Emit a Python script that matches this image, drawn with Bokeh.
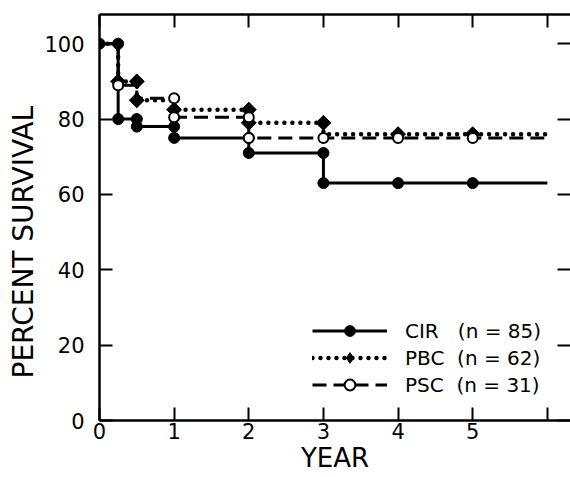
import math
from bokeh.plotting import figure
from bokeh.models import (LinearAxis, FixedTicker, Range1d, Legend, LegendItem, Title)
from bokeh.embed import file_html
from bokeh.resources import INLINE

# ---- data ----
# Kaplan-Meier step curves: time (years) and percent survival from that time on
cir_t = [0, 0.25, 0.5, 1, 2, 3, 6]
cir_s = [100, 80, 78, 75, 71, 63, 63]
pbc_t = [0, 0.25, 0.5, 1, 2, 3, 6]
pbc_s = [100, 90, 85, 82.5, 79, 76, 76]
psc_t = [0, 0.25, 0.5, 1, 2, 6]
psc_s = [100, 89, 85.5, 80.5, 75, 75]

# plotted markers
cir_mx = [0, 0.25, 0.25, 0.5, 0.5, 1, 1, 2, 2, 3, 3, 4, 5]
cir_my = [100, 100, 80, 80, 78, 78, 75, 75, 71, 71, 63, 63, 63]
pbc_mx = [0.25, 0.5, 0.5, 1, 2, 2, 3, 4, 5]
pbc_my = [90, 90, 85, 82.5, 82.5, 79, 79, 76, 76]
psc_mx = [0.25, 1, 1, 2, 2, 3, 4, 5]
psc_my = [89, 85.5, 80.5, 80.5, 75, 75, 75, 75]

legend_labels = ["CIR   (n = 85)", "PBC  (n = 62)", "PSC  (n = 31)"]

x_ticks = [0, 1, 2, 3, 4, 5, 6]
x_tick_labels = {6: ""}
y_ticks = [0, 20, 40, 60, 80, 100]

FONT = "DejaVu Sans"

p = figure(width=570, height=475, output_backend="svg", toolbar_location=None,
           x_range=Range1d(0, 6.31), y_range=Range1d(0, 107.75),
           min_border_left=99, min_border_right=0, min_border_top=14,
           min_border_bottom=0)
p.grid.visible = False
p.outline_line_color = None
p.background_fill_color = "white"
p.border_fill_color = "white"


def style_axis(ax, labels=True):
    ax.axis_line_color = "black"
    ax.axis_line_width = 2.5
    ax.major_tick_line_color = "black"
    ax.major_tick_line_width = 2
    ax.major_tick_in = 13
    ax.major_tick_out = 0
    ax.minor_tick_line_color = None
    ax.major_label_text_font = FONT
    ax.major_label_text_font_size = "21px" if labels else "1px"
    ax.major_label_text_color = "black" if labels else None
    ax.axis_label_text_font = FONT
    ax.axis_label_text_font_size = "26px"
    ax.axis_label_text_font_style = "normal"
    ax.axis_label_text_color = "black"


xa = p.xaxis[0]
xa.ticker = FixedTicker(ticks=x_ticks)
xa.major_label_overrides = x_tick_labels
style_axis(xa)
xa.major_label_standoff = 2
xa.axis_label = "YEAR"
xa.axis_label_standoff = 1

ya = p.yaxis[0]
ya.ticker = FixedTicker(ticks=y_ticks)
style_axis(ya)
ya.major_label_standoff = 15

ytitle = Title(text="PERCENT SURVIVAL", align="left", offset=42,
               text_font=FONT, text_font_size="28px", text_font_style="normal",
               text_color="black", standoff=4)
p.add_layout(ytitle, "left")

top = LinearAxis(ticker=FixedTicker(ticks=x_ticks))
style_axis(top, labels=False)
top.major_label_standoff = 0
p.add_layout(top, "above")

right = LinearAxis(ticker=FixedTicker(ticks=y_ticks))
style_axis(right, labels=False)
right.axis_line_color = None
right.major_label_standoff = 0
p.add_layout(right, "right")

# ---- curves ----
r_cir = p.step(cir_t, cir_s, mode="after", line_color="black", line_width=3)
r_pbc = p.step(pbc_t, pbc_s, mode="after", line_color="black", line_width=4.5,
               line_dash="0 8", line_cap="round")
r_psc = p.step(psc_t, psc_s, mode="after", line_color="black", line_width=3,
               line_dash="14 7")

m_cir = p.scatter(cir_mx, cir_my, marker="circle", size=11, fill_color="black",
                  line_color="black")
# diamond marker underneath (its legend glyph is a diamond) ...
m_pbc_key = p.scatter(pbc_mx, pbc_my, marker="diamond", size=14,
                      fill_color="black", line_color="black")
# ... covered by a rotated square, which gives the broad diamond shape
m_pbc = p.scatter(pbc_mx, pbc_my, marker="square", size=10.5, angle=math.pi / 4,
                  fill_color="black", line_color="black")
m_psc = p.scatter(psc_mx, psc_my, marker="circle", size=10, fill_color="white",
                  line_color="black", line_width=2)

legend = Legend(items=[
    LegendItem(label=legend_labels[0], renderers=[r_cir, m_cir]),
    LegendItem(label=legend_labels[1], renderers=[r_pbc, m_pbc_key]),
    LegendItem(label=legend_labels[2], renderers=[r_psc, m_psc]),
], location=(213, 22), glyph_width=75, glyph_height=27, label_height=22,
    label_standoff=18, spacing=0, padding=0, margin=0,
    border_line_color=None, background_fill_alpha=0,
    label_text_font=FONT, label_text_font_size="20px", label_text_color="black")
p.add_layout(legend)

open("out.html", "w").write(file_html(p, INLINE))
